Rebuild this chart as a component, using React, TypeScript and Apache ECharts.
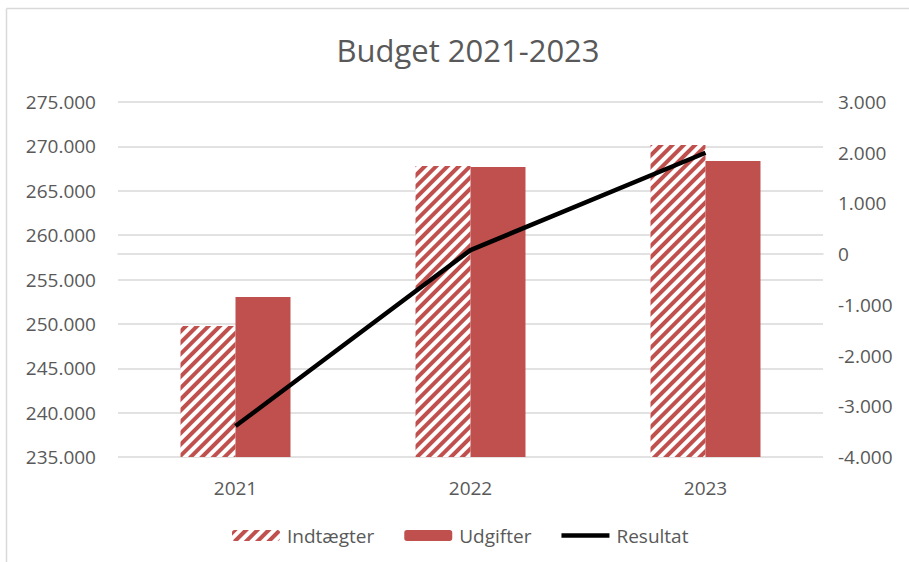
import React, { useEffect, useRef } from "react";
import * as echarts from "echarts";

const categories = ["2021", "2022", "2023"];
const indtaegter = [249760, 267790, 270150];
const udgifter = [253030, 267680, 268350];
const resultat = [-3390, 80, 2000];
const titleText = "Budget 2021-2023";

const fmt = (v: number) => {
  const neg = v < 0;
  const s = Math.abs(Math.round(v)).toString().replace(/\B(?=(\d{3})+(?!\d))/g, ".");
  return (neg ? "-" : "") + s;
};

const RED = "#C0504D";
const TXT = "#595959";
const FONT = "'Open Sans', sans-serif";

export default function App() {
  const ref = useRef<HTMLDivElement>(null);
  useEffect(() => {
    const chart = echarts.init(ref.current!, null, { renderer: "svg" });
    chart.setOption({
      animation: false,
      backgroundColor: "#fff",
      textStyle: { fontFamily: FONT },
      title: {
        text: titleText,
        left: 463,
        textAlign: "center",
        top: 29,
        textStyle: { fontSize: 31, fontWeight: "normal", color: TXT, fontFamily: FONT },
      },
      graphic: [
        { type: "line", shape: { x1: 6.5, y1: 8.5, x2: 6.5, y2: 562 }, style: { stroke: "#D9D9D9", lineWidth: 1.5 } },
        { type: "line", shape: { x1: 6.5, y1: 8.5, x2: 909, y2: 8.5 }, style: { stroke: "#D9D9D9", lineWidth: 1.5 } },
      ],
      legend: {
        left: 232,
        top: 526,
        padding: 0,
        itemWidth: 48,
        itemHeight: 11,
        itemGap: 30,
        textStyle: { fontSize: 19, color: TXT, fontFamily: FONT, padding: [0, 0, 0, 2] },
        data: [
          { name: "Indtægter" },
          { name: "Udgifter" },
          { name: "Resultat", icon: "path://M0 0H52V5H0Z", itemStyle: { color: "#000" } },
        ],
      },
      grid: { left: 118, right: 86, top: 102, bottom: 105, containLabel: false },
      xAxis: {
        type: "category",
        data: categories,
        axisLine: { lineStyle: { color: "#D9D9D9", width: 1.5 } },
        axisTick: { show: false },
        axisLabel: { color: TXT, fontSize: 19, margin: 21, fontFamily: FONT },
      },
      yAxis: [
        {
          type: "value",
          min: 235000,
          max: 275000,
          interval: 5000,
          axisLine: { show: false },
          axisTick: { show: false },
          splitLine: { lineStyle: { color: "#D9D9D9", width: 1.5 } },
          axisLabel: { color: TXT, fontSize: 19, margin: 22, formatter: fmt, fontFamily: FONT },
        },
        {
          type: "value",
          min: -4000,
          max: 3000,
          interval: 1000,
          axisLine: { show: false },
          axisTick: { show: false },
          splitLine: { show: false },
          axisLabel: { color: TXT, fontSize: 19, margin: 15, formatter: fmt, fontFamily: FONT },
        },
      ],
      series: [
        {
          name: "Indtægter",
          type: "bar",
          data: indtaegter,
          barWidth: "23.4%",
          barGap: "0%",
          itemStyle: {
            color: "#fff",
            decal: {
              symbol: "rect",
              symbolSize: 1,
              dashArrayX: [1, 0],
              dashArrayY: [3.5, 3.5],
              rotation: -Math.PI / 4,
              color: RED,
              backgroundColor: "#fff",
            },
          },
        },
        {
          name: "Udgifter",
          type: "bar",
          data: udgifter,
          barWidth: "23.4%",
          itemStyle: { color: RED },
        },
        {
          name: "Resultat",
          type: "line",
          yAxisIndex: 1,
          data: resultat,
          symbol: "none",
          lineStyle: { color: "#000", width: 4.5 },
          itemStyle: { color: "#000" },
        },
      ],
    });
    return () => chart.dispose();
  }, []);
  return (
    <div
      ref={ref}
      style={{ position: "absolute", left: 0, top: 0, width: 909, height: 562 }}
    />
  );
}
